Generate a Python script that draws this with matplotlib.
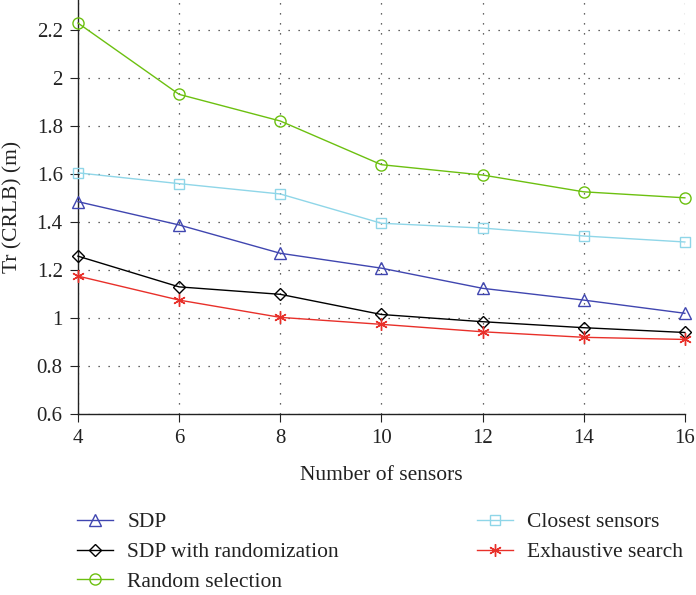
import matplotlib
matplotlib.use("Agg")
import matplotlib.pyplot as plt

plt.rcParams['font.family'] = ['Liberation Serif', 'DejaVu Serif']

sensors = [4, 6, 8, 10, 12, 14, 16]
sdp = [1.485, 1.388, 1.270, 1.208, 1.124, 1.075, 1.020]
sdp_rand = [1.258, 1.130, 1.099, 1.015, 0.985, 0.960, 0.940]
random_sel = [2.229, 1.932, 1.821, 1.639, 1.596, 1.526, 1.501]
closest = [1.605, 1.560, 1.517, 1.395, 1.375, 1.342, 1.317]
exhaustive = [1.175, 1.075, 1.003, 0.974, 0.943, 0.920, 0.911]

xticks = [4, 6, 8, 10, 12, 14, 16]
yticks = [0.6, 0.8, 1.0, 1.2, 1.4, 1.6, 1.8, 2.0, 2.2]
yticklabels = ['0.6', '0.8', '1', '1.2', '1.4', '1.6', '1.8', '2', '2.2']

fig = plt.figure(figsize=(6.96, 5.95), dpi=100)
ax = fig.add_axes([0.112, 0.304, 0.872, 0.696])

c_sdp = '#4046b0'
c_rand = 'black'
c_random = '#6cc010'
c_closest = '#8fd6e8'
c_exh = '#e8302a'

lw = 1.0
series = [
    (sdp, c_sdp, '^', 8, 'SDP'),
    (sdp_rand, c_rand, 'D', 6.5, 'SDP with randomization'),
    (random_sel, c_random, 'o', 8, 'Random selection'),
    (closest, c_closest, 's', 7, 'Closest sensors'),
    (exhaustive, c_exh, (6, 2, 0), 9, 'Exhaustive search'),
]
handles = []
for vals, c, m, size, lab in series:
    h, = ax.plot(sensors, vals, color=c, lw=lw, marker=m, ms=size,
                 mfc='none', mec=c, mew=1.0, label=lab, zorder=3, clip_on=False)
    handles.append(h)

ax.set_xlim(4, 16)
ax.set_ylim(0.6, 2.325)
ax.set_xticks(xticks)
ax.set_yticks(yticks)
ax.set_yticklabels(yticklabels)
ax.grid(True, color='#333333', linestyle=(0, (1, 7)), linewidth=0.9)
for s in ['top', 'right']:
    ax.spines[s].set_visible(False)
for s in ['left', 'bottom']:
    ax.spines[s].set_linewidth(1.0)
    ax.spines[s].set_color('#222222')
ax.tick_params(direction='out', length=6, labelsize=15, colors='#222222', pad=5)
ax.set_xlabel('Number of sensors', fontsize=15.5, color='#222222', labelpad=13)
ax.set_ylabel('Tr (CRLB) (m)', fontsize=15.5, color='#222222', labelpad=10)

common = dict(loc='upper left', frameon=False, fontsize=15.5, handlelength=1.68,
              labelspacing=0.45, handletextpad=0.65, borderaxespad=0, borderpad=0)
leg1 = fig.legend(handles[:3], [h.get_label() for h in handles[:3]],
                  bbox_to_anchor=(0.1106, 0.139), **common)
leg2 = fig.legend(handles[3:], [h.get_label() for h in handles[3:]],
                  bbox_to_anchor=(0.685, 0.139), **common)
for t in list(leg1.get_texts()) + list(leg2.get_texts()):
    t.set_color('#222222')

fig.savefig('out.png', dpi=100)
